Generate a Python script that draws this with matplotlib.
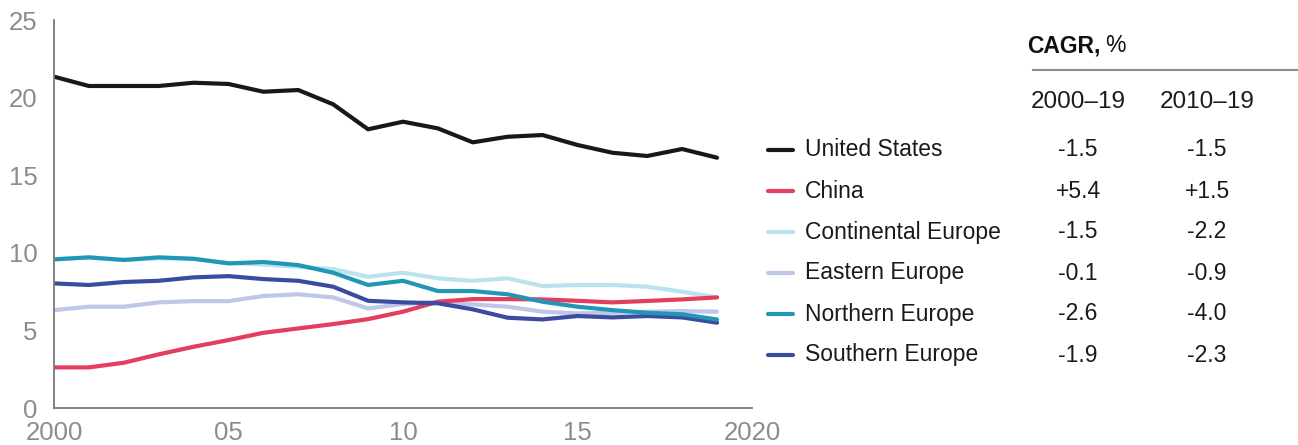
import matplotlib
matplotlib.use("Agg")
import matplotlib.pyplot as plt
from matplotlib.lines import Line2D

plt.rcParams['font.family'] = ['Liberation Sans', 'DejaVu Sans']

years = list(range(2000, 2020))

united_states = [21.35, 20.75, 20.75, 20.75, 20.96, 20.88, 20.38, 20.49, 19.57, 17.96,
                 18.45, 18.02, 17.12, 17.48, 17.59, 16.95, 16.45, 16.24, 16.69, 16.13]
china = [2.62, 2.62, 2.92, 3.46, 3.95, 4.38, 4.85, 5.13, 5.41, 5.73,
         6.21, 6.85, 7.02, 7.02, 7.0, 6.91, 6.81, 6.9, 7.0, 7.13]
continental = [9.58, 9.7, 9.55, 9.65, 9.6, 9.35, 9.25, 9.1, 8.95, 8.46,
               8.72, 8.36, 8.2, 8.36, 7.86, 7.93, 7.93, 7.82, 7.5, 7.13]
eastern = [6.31, 6.53, 6.53, 6.81, 6.89, 6.89, 7.22, 7.33, 7.13, 6.42,
           6.7, 6.85, 6.68, 6.53, 6.21, 6.1, 6.14, 6.21, 6.25, 6.21]
northern = [9.58, 9.71, 9.54, 9.71, 9.62, 9.32, 9.41, 9.21, 8.72, 7.93,
            8.2, 7.54, 7.54, 7.33, 6.85, 6.53, 6.31, 6.14, 6.04, 5.71]
southern = [8.03, 7.93, 8.12, 8.2, 8.42, 8.5, 8.31, 8.2, 7.82, 6.91,
            6.81, 6.75, 6.36, 5.82, 5.71, 5.93, 5.84, 5.93, 5.84, 5.5]

names = ["United States", "China", "Continental Europe", "Eastern Europe",
         "Northern Europe", "Southern Europe"]
cagr_00_19 = ["-1.5", "+5.4", "-1.5", "-0.1", "-2.6", "-1.9"]
cagr_10_19 = ["-1.5", "+1.5", "-2.2", "-0.9", "-4.0", "-2.3"]
colors = ["#16191c", "#e43d5e", "#b9e3ef", "#c0c6e7", "#2296b5", "#3a4ca0"]

series = [united_states, china, continental, eastern, northern, southern]
# draw order: light ones first so darker lines sit on top
draw_order = [2, 3, 1, 5, 4, 0]

fig = plt.figure(figsize=(12.98, 4.45), dpi=100)
ax = fig.add_axes([0.0416, 0.083, 0.5377, 0.872])

for i in draw_order:
    ax.plot(years, series[i], color=colors[i], lw=3, solid_capstyle='round')

ax.set_xlim(2000, 2020)
ax.set_ylim(0, 25)
ax.set_xticks([2000, 2005, 2010, 2015, 2020])
ax.set_xticklabels(["2000", "05", "10", "15", "2020"])
ax.set_yticks([0, 5, 10, 15, 20, 25])
for s in ["top", "right"]:
    ax.spines[s].set_visible(False)
for s in ["left", "bottom"]:
    ax.spines[s].set_color("#7a7a7a")
    ax.spines[s].set_linewidth(1.3)
ax.tick_params(length=0, labelsize=18.5, labelcolor="#8c8c8c")
ax.tick_params(axis='y', pad=12)
ax.tick_params(axis='x', pad=9)

# table legend
W, H = 1298.0, 445.0
row_y = [150, 191, 232, 273, 314, 355]
for i, name in enumerate(names):
    y = 1 - row_y[i] / H
    fig.add_artist(Line2D([768 / W, 793 / W], [y, y], color=colors[i], lw=3,
                          solid_capstyle='round', transform=fig.transFigure))
    fig.text(805 / W, y, name, fontsize=16.5, color="#1a1a1a", va='center', ha='left')
    fig.text(1078 / W, y, cagr_00_19[i], fontsize=16.5, color="#1a1a1a", va='center', ha='center')
    fig.text(1207 / W, y, cagr_10_19[i], fontsize=16.5, color="#1a1a1a", va='center', ha='center')

fig.text(1078 / W, 1 - 102 / H, "2000\u201319", fontsize=17.5, color="#1a1a1a", va='center', ha='center')
fig.text(1207 / W, 1 - 102 / H, "2010\u201319", fontsize=17.5, color="#1a1a1a", va='center', ha='center')

t = fig.text(1027 / W, 1 - 46 / H, "CAGR,", fontsize=16.5, fontweight='bold',
             color="#111111", va='center', ha='left')
fig.canvas.draw()
bb = t.get_window_extent()
fig.text((bb.x1 + 5) / W, 1 - 46 / H, "%", fontsize=16.5, color="#111111", va='center', ha='left')
fig.add_artist(Line2D([1033 / W, 1.0], [1 - 70 / H, 1 - 70 / H], color="#8a8a8a", lw=1.5,
                      transform=fig.transFigure))

fig.savefig("out.png", dpi=100)
